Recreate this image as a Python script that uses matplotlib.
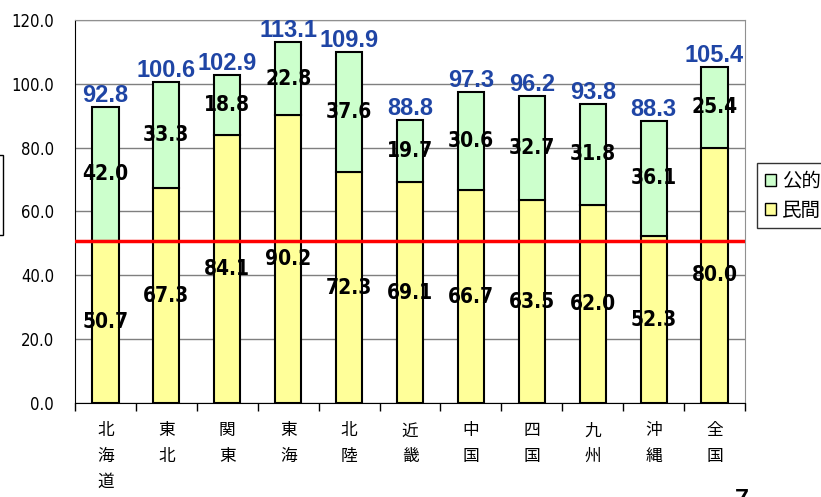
import matplotlib.pyplot as plt
import matplotlib.patches as mpatches
import numpy as np

regions = ['北海道', '東北', '関東', '東海', '北陸', '近畿', '中国', '四国', '九州', '沖縄', '全国']
private = [50.7, 67.3, 84.1, 90.2, 72.3, 69.1, 66.7, 63.5, 62.0, 52.3, 80.0]
public = [42.0, 33.3, 18.8, 22.8, 37.6, 19.7, 30.6, 32.7, 31.8, 36.1, 25.4]
totals = [92.8, 100.6, 102.9, 113.1, 109.9, 88.8, 97.3, 96.2, 93.8, 88.3, 105.4]
ref_level = 50.7
yticks = [0, 20, 40, 60, 80, 100, 120]

plt.rcParams['font.family'] = ['Noto Sans CJK JP', 'DejaVu Sans']

fig = plt.figure(figsize=(8.21, 4.97), dpi=100)
ax = fig.add_axes([75/821, 1-403/497, 670/821, 383/497])

x = np.arange(len(regions))
w = 0.43
ax.bar(x, private, w, color='#FFFF99', edgecolor='black', linewidth=1.5, zorder=3, label='民間')
ax.bar(x, public, w, bottom=private, color='#CCFFCC', edgecolor='black', linewidth=1.5, zorder=3, label='公的')

num_font = dict(family='DejaVu Sans', fontstretch='condensed', fontweight='bold', fontsize=15)
for i in range(len(regions)):
    ax.text(x[i], private[i]/2, '%.1f' % private[i], ha='center', va='center', zorder=5, **num_font)
    ax.text(x[i], private[i] + public[i]/2, '%.1f' % public[i], ha='center', va='center', zorder=5, **num_font)
    ax.text(x[i], totals[i], '%.1f' % totals[i], ha='center', va='bottom', zorder=5,
            family=['Liberation Sans', 'DejaVu Sans'], fontweight='bold', fontsize=17, color='#1F45A5',
            clip_on=False)

ax.axhline(ref_level, color='red', linewidth=2.5, zorder=4)

ax.set_xlim(-0.5, len(regions) - 0.5)
ax.set_ylim(0, 120)
ax.set_yticks(yticks)
ax.set_yticklabels(['%.1f' % v for v in yticks], family='DejaVu Sans', stretch='condensed', fontsize=12)
ax.yaxis.grid(True, color='#7f7f7f', linewidth=1, zorder=0)
ax.tick_params(axis='y', length=0, pad=15)

ax.set_xticks(x)
ax.set_xticklabels(['\n'.join(r) for r in regions], fontsize=12, linespacing=1.65, va='top')
ax.tick_params(axis='x', length=0, pad=14)
ax.set_xticks(np.arange(-0.5, len(regions)), minor=True)
ax.tick_params(axis='x', which='minor', length=6, width=1, direction='out')

ax.spines['left'].set_color('black')
ax.spines['bottom'].set_color('black')
ax.spines['top'].set_color('#909090')
ax.spines['right'].set_color('#909090')

handles = [mpatches.Patch(facecolor='#CCFFCC', edgecolor='black', label='公的'),
           mpatches.Patch(facecolor='#FFFF99', edgecolor='black', label='民間')]
fig.legend(handles=handles, loc='upper left', bbox_to_anchor=(757/821, 1-163/497),
           fontsize=14, frameon=True, fancybox=False, edgecolor='black',
           handlelength=0.6, handleheight=0.6, handletextpad=0.3, borderpad=0.4,
           labelspacing=0.4, borderaxespad=0)

# cut-off box at the left edge and page number
fig.patches.append(mpatches.Rectangle((-0.05, 1-235/497), 0.054, 80/497, transform=fig.transFigure,
                                      fill=False, edgecolor='black', linewidth=1))
fig.text(735/821, 1-488/497, '7', fontsize=18, fontweight='bold', va='top', ha='left',
         family=['Liberation Sans', 'DejaVu Sans'])

fig.savefig('out.png', dpi=100)
